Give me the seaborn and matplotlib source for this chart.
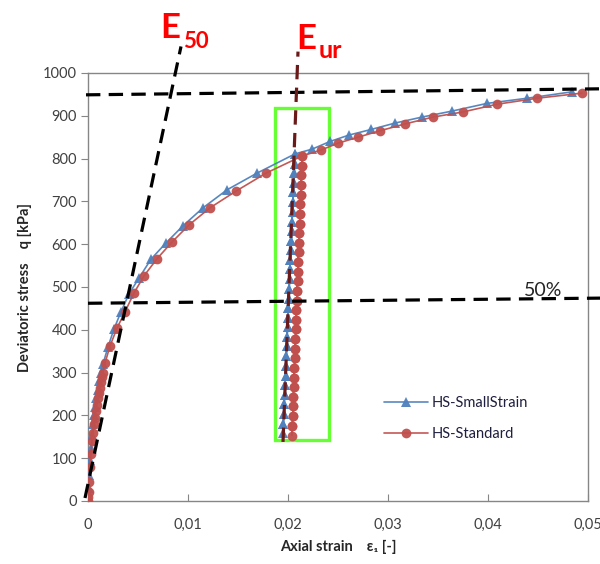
import numpy as np
import pandas as pd
import matplotlib
matplotlib.use("Agg")
import matplotlib.pyplot as plt
import seaborn as sns
from matplotlib.ticker import MultipleLocator

# ---------------- data ----------------
# HS-SmallStrain: primary loading
ss_load_x = [0, 0.00005, 0.0001, 0.0002, 0.0003, 0.0004, 0.0005, 0.0006, 0.0007, 0.0008,
             0.0010, 0.0011, 0.0013, 0.0015, 0.0020, 0.0026, 0.0033, 0.0041, 0.0051, 0.0063,
             0.0078, 0.0095, 0.0115, 0.0139, 0.0169, 0.0207]
ss_load_q = [0, 30, 60, 95, 125, 155, 180, 200, 220, 240,
             260, 280, 300, 320, 360, 402, 442, 484, 521, 565,
             603, 643, 685, 727, 766, 811]
# HS-SmallStrain: unloading branch (reloading follows it back up)
ss_ur_x = [0.02066, 0.02062, 0.02058, 0.02054, 0.02050, 0.02045, 0.02041, 0.02037, 0.02033,
           0.02029, 0.02024, 0.02020, 0.02016, 0.02012, 0.02008, 0.02004, 0.02000, 0.01996,
           0.01991, 0.01987, 0.01983, 0.01979, 0.01975, 0.01971, 0.01967, 0.01962, 0.01958,
           0.01954, 0.01950]
ss_ur_q = [788, 766, 743, 721, 698, 676, 653, 631, 608, 586, 563, 541, 518, 496, 473, 451,
           428, 406, 383, 361, 338, 316, 293, 271, 248, 226, 203, 181, 158]
# HS-SmallStrain: continued loading
ss_post_x = [0.0224, 0.0242, 0.0261, 0.0283, 0.0307, 0.0334, 0.0364, 0.0399, 0.0439, 0.0484]
ss_post_q = [822, 840, 855, 868, 883, 897, 911, 929, 941, 956]

# HS-Standard: primary loading
st_load_x = [0, 0.00003, 0.00005, 0.0001, 0.0002, 0.0003, 0.0004, 0.0005, 0.0006, 0.0007,
             0.0008, 0.0009, 0.0010, 0.0011, 0.0012, 0.0013, 0.0014, 0.0015, 0.0017, 0.0022,
             0.0029, 0.0037, 0.0046, 0.0056, 0.0069, 0.0084, 0.0101, 0.0122, 0.0148, 0.0178,
             0.0214]
st_load_q = [0, 10, 20, 45, 80, 110, 140, 160, 180, 195,
             210, 225, 240, 252, 265, 277, 290, 300, 322, 362,
             404, 442, 486, 526, 566, 605, 645, 685, 724, 766,
             806]
st_ur_x = [0.02137, 0.02133, 0.02130, 0.02126, 0.02123, 0.02119, 0.02116, 0.02112, 0.02109,
           0.02105, 0.02102, 0.02098, 0.02095, 0.02091, 0.02088, 0.02084, 0.02081, 0.02077,
           0.02074, 0.02071, 0.02067, 0.02064, 0.02060, 0.02057, 0.02053, 0.02050, 0.02047,
           0.02043, 0.02040]
st_ur_q = [783, 761, 738, 716, 693, 671, 648, 626, 603, 581, 558, 536, 513, 491, 468, 446,
           423, 401, 378, 356, 333, 311, 288, 266, 243, 221, 198, 176, 153]
st_post_x = [0.0233, 0.0250, 0.0270, 0.0292, 0.0317, 0.0345, 0.0375, 0.0409, 0.0449, 0.0494]
st_post_q = [820, 836, 850, 865, 881, 897, 909, 927, 941, 953]

series_names = ["HS-SmallStrain", "HS-Standard"]

# construction lines (strain, q)
e50_x = [-0.0003, 0.0093]
e50_q = [7, 1062]
eur_x = [0.0195, 0.0210]
eur_q = [138, 1050]
hline_top_x = [-0.0002, 0.0511]
hline_top_q = [949, 963]
hline_mid_x = [0.0, 0.0512]
hline_mid_q = [462, 474]
box_x = [0.0187, 0.0241]
box_q = [142, 918]

x_ticks = [0, 0.01, 0.02, 0.03, 0.04, 0.05]
x_tick_labels = ["0", "0,01", "0,02", "0,03", "0,04", "0,05"]

# ---------------- build long table ----------------
def path(lx, lq, ux, uq, px, pq):
    xs = list(lx) + list(ux) + list(ux[::-1][1:]) + [lx[-1]] + list(px)
    qs = list(lq) + list(uq) + list(uq[::-1][1:]) + [lq[-1]] + list(pq)
    return xs, qs

sx, sq = path(ss_load_x, ss_load_q, ss_ur_x, ss_ur_q, ss_post_x, ss_post_q)
tx, tq = path(st_load_x, st_load_q, st_ur_x, st_ur_q, st_post_x, st_post_q)
df = pd.DataFrame({
    "strain": sx + tx,
    "q": sq + tq,
    "model": [series_names[0]] * len(sx) + [series_names[1]] * len(tx),
})

# ---------------- style ----------------
sns.set_style("white")
plt.rcParams["font.family"] = ["Lato", "DejaVu Sans"]

fig = plt.figure(figsize=(6.0, 5.64), dpi=100)
W, H = 600, 564
ax = fig.add_axes([88 / W, 63 / H, 500 / W, 428 / H])

blue = "#4F81BD"
red = "#C0504D"
for name, col, mk in [(series_names[0], blue, "^"), (series_names[1], red, "o")]:
    sub = df[df["model"] == name]
    sns.lineplot(data=sub, x="strain", y="q", sort=False, estimator=None, ax=ax,
                 color=col, marker=mk, markersize=7, markeredgewidth=0,
                 linewidth=1.2, label=name, zorder=3, alpha=0.95)

ax.set_xlim(0, 0.05)
ax.set_ylim(0, 1000)
ax.set_xticks(x_ticks)
ax.set_xticklabels(x_tick_labels)
ax.yaxis.set_major_locator(MultipleLocator(100))
for s in ax.spines.values():
    s.set_color("#868686")
    s.set_linewidth(1.0)
ax.tick_params(axis="x", direction="in", length=5, color="#868686", labelsize=10.5,
               labelcolor="#404040", pad=12)
ax.tick_params(axis="y", direction="out", length=5, color="#868686", labelsize=10.5,
               labelcolor="#404040", pad=3)
ax.tick_params(left=True, bottom=True)
ax.set_xlabel("Axial strain    ε\u2081 [-]", fontsize=10.5, fontweight="bold",
              color="#262626", labelpad=6)
ax.set_ylabel("Deviatoric stress    q [kPa]", fontsize=10.5, fontweight="bold",
              color="#262626", labelpad=8)

# construction lines
dash_kw = dict(linewidth=2.3, dashes=(4.5, 2.6), clip_on=False, zorder=4)
ax.plot(hline_top_x, hline_top_q, color="black", **dash_kw)
ax.plot(hline_mid_x, hline_mid_q, color="black", **dash_kw)
ax.plot(e50_x, e50_q, color="black", **dash_kw)
ax.plot(eur_x, eur_q, color="#6B1A1A", **dash_kw)
ax.add_patch(plt.Rectangle((box_x[0], box_q[0]), box_x[1] - box_x[0], box_q[1] - box_q[0],
                           fill=False, edgecolor="#66FF33", linewidth=2.4, clip_on=False,
                           zorder=2))

# annotations
fig.text(160 / W, 1 - 38 / H, "E", color="#FF0000", fontsize=25, fontweight="bold",
         ha="left", va="baseline")
fig.text(183 / W, 1 - 48 / H, "50", color="#FF0000", fontsize=16, fontweight="bold",
         ha="left", va="baseline")
fig.text(296 / W, 1 - 49 / H, "E", color="#FF0000", fontsize=25, fontweight="bold",
         ha="left", va="baseline")
fig.text(319 / W, 1 - 58 / H, "ur", color="#FF0000", fontsize=18, fontweight="bold",
         ha="left", va="baseline")
fig.text(524 / W, 1 - 296 / H, "50%", color="#262626", fontsize=14, ha="left",
         va="baseline")

leg = ax.legend(loc="upper left", bbox_to_anchor=((378 - 88) / 500, (501 - 390) / 428),
                frameon=False, fontsize=10.5, handlelength=3.0, labelspacing=1.2,
                handletextpad=0.3, borderaxespad=0)
for t in leg.get_texts():
    t.set_color("#1F1F3F")

fig.savefig("out.png", dpi=100)
